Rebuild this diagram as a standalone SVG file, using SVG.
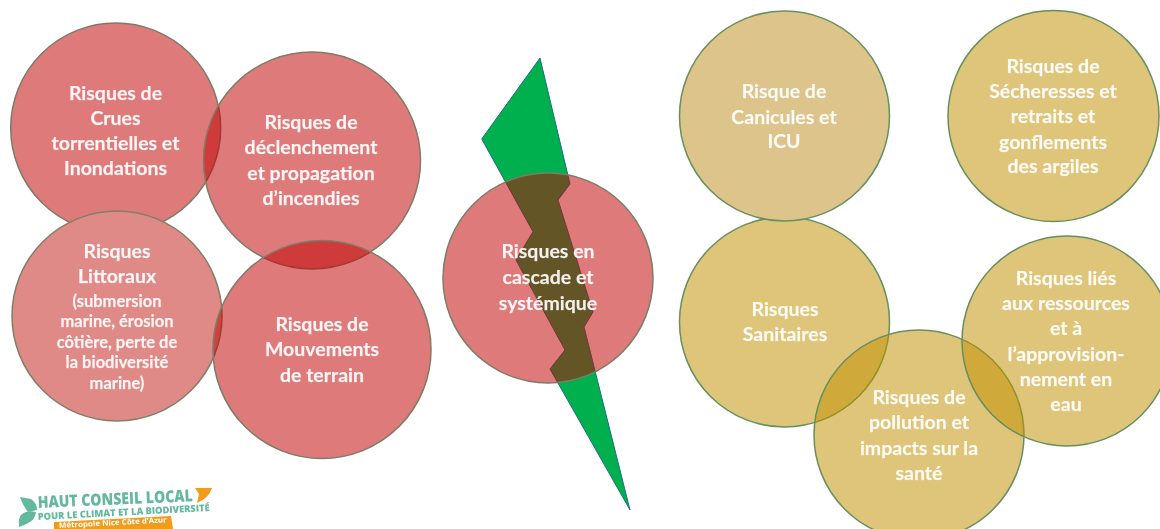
<svg xmlns="http://www.w3.org/2000/svg" width="1160" height="529" viewBox="0 0 1160 529">
<style>
.t{font-family:"Lato","Liberation Sans",sans-serif;font-weight:700;font-size:19.5px;fill:#fff;fill-opacity:.92;stroke:#fff;stroke-opacity:.5;stroke-width:.25;text-anchor:middle}
.s{font-size:16.5px}
.r{fill:#c00000;fill-opacity:.52;stroke:#7c7c68;stroke-width:1.5}
.ro{fill:#e08a88;stroke:#7f7f6a;stroke-width:1.5}
.g{fill:#bf9000;fill-opacity:.52;stroke:#66905f;stroke-width:1.5}
.go{fill:#dcc48a;stroke:#66905f;stroke-width:1.5}
.l{font-family:"Open Sans","Liberation Sans",sans-serif;font-weight:800;fill:#64b89e}
</style>
<defs><filter id="b" x="-5%" y="-5%" width="110%" height="110%"><feGaussianBlur stdDeviation="0.5"/></filter></defs>
<rect width="1160" height="529" fill="#fff"/>
<g filter="url(#b)">
<g id="risque-crues"><circle class="r" cx="115.7" cy="128" r="105"/>
<text class="t" x="115.5" y="100">Risques de</text><text class="t" x="115.5" y="125">Crues</text><text class="t" x="115.5" y="150">torrentielles et</text><text class="t" x="115.5" y="175">Inondations</text></g>
<g id="risque-littoraux"><circle class="ro" cx="117" cy="316" r="105"/>
<text class="t" x="117" y="258">Risques</text><text class="t" x="117" y="283">Littoraux</text>
<text class="t s" x="117" y="307">(submersion</text><text class="t s" x="117" y="327">marine, érosion</text><text class="t s" x="117" y="348">côtière, perte de</text><text class="t s" x="117" y="368">la biodiversité</text><text class="t s" x="117" y="389">marine)</text></g>
<g id="risque-incendies"><circle class="r" cx="312" cy="160.5" r="108.5"/>
<text class="t" x="311" y="129">Risques de</text><text class="t" x="311" y="154">déclenchement</text><text class="t" x="311" y="180">et propagation</text><text class="t" x="311" y="205">d’incendies</text></g>
<g id="risque-mouvements"><circle class="r" cx="322" cy="349.5" r="109"/>
<text class="t" x="322" y="331">Risques de</text><text class="t" x="322" y="356">Mouvements</text><text class="t" x="322" y="382">de terrain</text></g>
<g id="eclair"><polygon points="540,58 481.7,139 533,231.7 516,260 565,350 550,369 630,510 584,327 593,312 558,200 570,184" fill="#00b050" stroke="#1f6f78" stroke-width="1"/></g>
<g id="risque-cascade"><circle class="r" cx="548" cy="278" r="105"/>
<text class="t" x="548" y="258">Risques en</text><text class="t" x="548" y="284">cascade et</text><text class="t" x="548" y="310">systémique</text></g>
<g id="risque-sanitaires"><circle class="g" cx="784.5" cy="322" r="105"/>
<text class="t" x="785" y="316">Risques</text><text class="t" x="785" y="341">Sanitaires</text></g>
<g id="risque-canicules"><circle class="go" cx="784.5" cy="116" r="105"/>
<text class="t" x="784" y="98">Risque de</text><text class="t" x="784" y="124">Canicules et</text><text class="t" x="784" y="148">ICU</text></g>
<g id="risque-secheresses"><circle class="g" cx="1053.5" cy="116" r="105.5"/>
<text class="t" x="1053" y="73">Risques de</text><text class="t" x="1053" y="98">Sécheresses et</text><text class="t" x="1053" y="123">retraits et</text><text class="t" x="1053" y="149">gonflements</text><text class="t" x="1053" y="173">des argiles</text></g>
<g id="risque-pollution"><circle class="g" cx="919" cy="435" r="105"/>
<text class="t" x="919" y="404">Risques de</text><text class="t" x="919" y="429">pollution et</text><text class="t" x="919" y="455">impacts sur la</text><text class="t" x="919" y="480">santé</text></g>
<g id="risque-ressources"><circle class="g" cx="1067" cy="341" r="105"/>
<text class="t" x="1066" y="285">Risques liés</text><text class="t" x="1066" y="310">aux ressources</text><text class="t" x="1066" y="335">et à</text><text class="t" x="1066" y="361">l’approvision-</text><text class="t" x="1066" y="386">nement en</text><text class="t" x="1066" y="411">eau</text></g>
<g id="logo">
<path d="M20 497 L31 499 Q37 503 37 510 L28 512 Q23 506 20 497Z" fill="#64b89e"/>
<path d="M19 527 Q18 517 22 514 Q27 510 36 512 Q35 519 30 522 Q25 525 19 527Z" fill="#64b89e"/>
<path d="M195 488 L212 488 Q209 498 197 503 L199 494Z" fill="#f39c1f"/>
<text class="l" transform="translate(38 508) rotate(-2.5)" font-size="16.5" textLength="155" lengthAdjust="spacingAndGlyphs">HAUT CONSEIL LOCAL</text>
<text class="l" transform="translate(38 520) rotate(-3)" font-size="9.5" textLength="172" lengthAdjust="spacingAndGlyphs">POUR LE CLIMAT ET LA BIODIVERSITÉ</text>
<polygon points="54,522 171,516 173,529 54,529" fill="#f39c1f"/>
<text transform="translate(59 528) rotate(-3)" font-family="Open Sans, Liberation Sans, sans-serif" font-weight="700" font-size="7.5" fill="#fff" textLength="108" lengthAdjust="spacingAndGlyphs">Métropole Nice Côte d’Azur</text>
</g>
</g>
</svg>
